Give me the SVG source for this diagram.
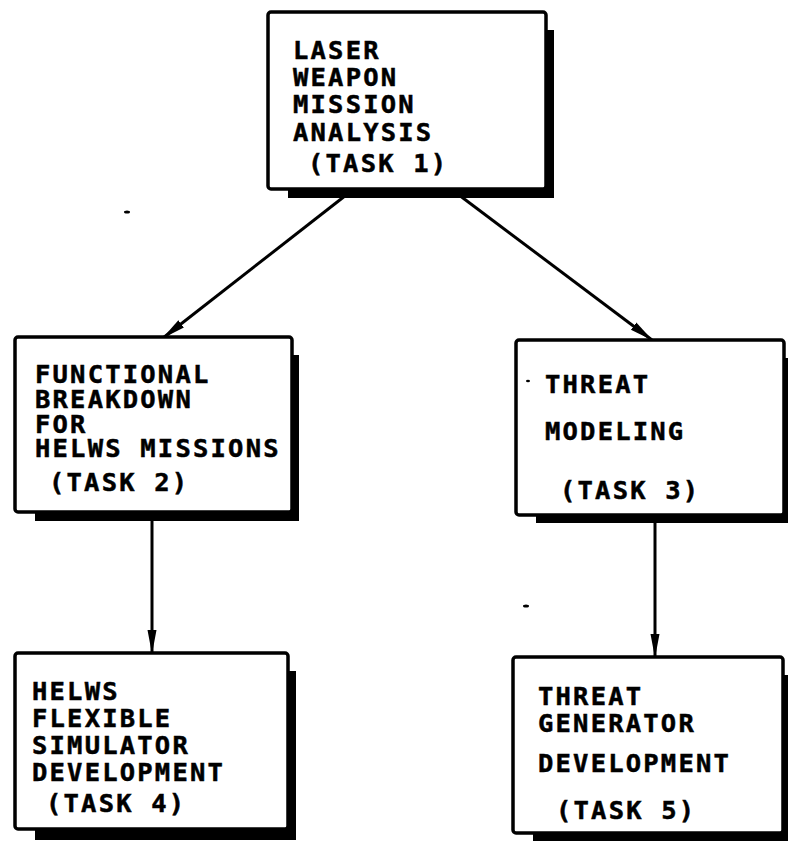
<svg xmlns="http://www.w3.org/2000/svg" width="788" height="846" viewBox="0 0 788 846">
<style>
.sh{fill:#000}
.bx{fill:#fff;stroke:#000;stroke-width:3.5}
.t{font-family:"DejaVu Sans Mono","Liberation Mono",monospace;font-weight:bold;font-size:25.5px;letter-spacing:2.2px;fill:#000;stroke:#000;stroke-width:0.5}
.c{stroke:#000;stroke-width:3;fill:none}
</style>
<defs>
<marker id="ah" markerWidth="24" markerHeight="12" refX="23" refY="6" orient="auto" markerUnits="userSpaceOnUse">
<path d="M0,1.5 L24,6 L0,10.5 Z" fill="#000"/>
</marker>
</defs>
<g id="connectors">
<line class="c" x1="350" y1="192" x2="163" y2="338" marker-end="url(#ah)"/>
<line class="c" x1="455" y1="192" x2="652" y2="340" marker-end="url(#ah)"/>
<line class="c" x1="152" y1="514" x2="152" y2="653" marker-end="url(#ah)"/>
<line class="c" x1="655" y1="517" x2="655" y2="657" marker-end="url(#ah)"/>
</g>
<g id="task1">
<rect class="sh" x="288" y="30" width="266" height="168"/>
<rect class="bx" x="268" y="12" width="278" height="177" rx="3"/>
<text class="t" x="293" y="59">LASER</text>
<text class="t" x="293" y="86">WEAPON</text>
<text class="t" x="293" y="113">MISSION</text>
<text class="t" x="293" y="141">ANALYSIS</text>
<text class="t" x="308" y="172">(TASK 1)</text>
</g>
<g id="task2">
<rect class="sh" x="35" y="355" width="264" height="166"/>
<rect class="bx" x="15" y="337" width="277" height="175" rx="3"/>
<text class="t" x="35" y="383">FUNCTIONAL</text>
<text class="t" x="35" y="408">BREAKDOWN</text>
<text class="t" x="35" y="433">FOR</text>
<text class="t" x="35" y="457">HELWS MISSIONS</text>
<text class="t" x="49" y="491">(TASK 2)</text>
</g>
<g id="task3">
<rect class="sh" x="536" y="358" width="252" height="165"/>
<rect class="bx" x="516" y="340" width="268" height="175" rx="3"/>
<text class="t" x="545" y="393">THREAT</text>
<text class="t" x="545" y="440">MODELING</text>
<text class="t" x="560" y="499">(TASK 3)</text>
</g>
<g id="task4">
<rect class="sh" x="35" y="671" width="261" height="169"/>
<rect class="bx" x="15" y="653" width="273" height="176" rx="3"/>
<text class="t" x="32" y="700">HELWS</text>
<text class="t" x="32" y="727">FLEXIBLE</text>
<text class="t" x="32" y="754">SIMULATOR</text>
<text class="t" x="32" y="781">DEVELOPMENT</text>
<text class="t" x="46" y="812">(TASK 4)</text>
</g>
<g id="task5">
<rect class="sh" x="533" y="675" width="255" height="166"/>
<rect class="bx" x="513" y="657" width="270" height="176" rx="3"/>
<text class="t" x="538" y="705">THREAT</text>
<text class="t" x="538" y="732">GENERATOR</text>
<text class="t" x="538" y="772">DEVELOPMENT</text>
<text class="t" x="556" y="819">(TASK 5)</text>
</g>
<g id="specks" fill="#000">
<ellipse cx="127" cy="212" rx="3" ry="1.5"/>
<ellipse cx="528" cy="381" rx="2" ry="1.2"/>
<ellipse cx="526" cy="606" rx="3" ry="1.5"/>
</g>
</svg>
